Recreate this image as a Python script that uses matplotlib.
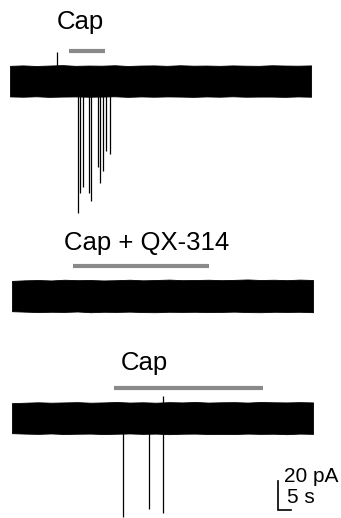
import numpy as np
import matplotlib
matplotlib.use("Agg")
import matplotlib.pyplot as plt

plt.rcParams['font.family'] = ['Liberation Sans', 'DejaVu Sans']

# recording length (s) and trace layout
durations = [115.8, 115.8, 115.8]
starts = [3.85, 4.6, 4.6]            # s, left edge of each trace
baselines = [-55.9, -204.1, -288.3]  # pA offsets of the three traces

# noise envelope (pA above / below baseline)
env_top = [
    [10.5, 10.8, 10.4, 10.7, 11.0, 10.5, 10.7, 10.6, 10.9, 10.4, 10.7, 10.8,
     10.5, 10.9, 10.6, 10.7, 10.5, 10.8, 10.6, 10.5, 10.9, 10.7, 10.6, 10.8],
    [10.4, 10.8, 11.0, 10.7, 11.2, 10.9, 11.0, 10.7, 10.9, 11.2, 10.8, 11.0,
     11.3, 10.9, 11.0, 11.2, 10.9, 11.1, 11.4, 11.0, 11.2, 10.9, 11.3, 11.0],
    [10.3, 10.6, 10.9, 10.6, 10.8, 11.0, 10.6, 10.8, 11.1, 10.7, 10.9, 10.6,
     11.0, 10.8, 11.1, 10.7, 10.9, 11.0, 10.7, 11.1, 10.9, 10.8, 11.0, 10.8],
]
env_bot = [
    [10.6, 10.8, 10.5, 10.9, 10.7, 10.6, 10.8, 10.7, 10.5, 10.9, 10.6, 10.8,
     10.6, 10.7, 10.9, 10.6, 10.8, 10.5, 10.8, 10.7, 10.7, 10.9, 10.6, 10.8],
    [10.5, 10.8, 11.1, 10.9, 11.0, 10.7, 11.2, 10.9, 11.0, 10.8, 11.1, 11.2,
     10.9, 11.0, 10.9, 11.1, 11.0, 10.8, 11.1, 11.2, 10.9, 11.0, 10.9, 11.2],
    [10.4, 10.7, 10.9, 10.6, 11.0, 10.8, 10.7, 11.0, 10.8, 10.6, 10.9, 10.7,
     11.1, 10.8, 10.7, 11.0, 10.9, 11.0, 10.7, 10.9, 10.8, 11.1, 10.7, 10.9],
]

# action currents: time from trace start (s), amplitude (pA, negative = inward)
spike_t = [
    [18.1, 26.0, 26.8, 28.1, 30.3, 31.3, 33.7, 34.6, 35.8, 36.9, 38.5],
    [],
    [42.7, 52.7, 58.1, 58.1],
]
spike_amp = [
    [20, -91, -77, -73, -77, -83, -59, -70, -62, -48, -50],
    [],
    [-68, -63, -65.5, 15],
]

# drug application bars (s from trace start)
bar_on = [22.7, 23.5, 39.2]
bar_off = [36.5, 75.8, 96.5]
bar_labels = ['Cap', 'Cap + QX-314', 'Cap']

fig = plt.figure(figsize=(3.41, 5.18), dpi=100)
ax = fig.add_axes([0, 0, 1, 1])
ax.set_xlim(0, 131.15)
ax.set_ylim(-357.2, 0)
ax.axis('off')

gray = '#8a8a8a'
for i in range(3):
    t0 = starts[i]
    base = baselines[i]
    n = len(env_top[i])
    t = t0 + np.linspace(0, durations[i], n)
    ax.fill_between(t, base - np.array(env_bot[i]), base + np.array(env_top[i]),
                    color='black', lw=0.6, edgecolor='black')
    for st, a in zip(spike_t[i], spike_amp[i]):
        ax.vlines(t0 + st, base, base + a, color='black', lw=0.9)
    # application bar and label
    ax.hlines(base + 20.9, t0 + bar_on[i], t0 + bar_off[i], color=gray, lw=3)

ax.text(31.0, -29 / 1.45, bar_labels[0], fontsize=18.5, ha='center', va='baseline')
ax.text(56.5, -250 / 1.45, bar_labels[1], fontsize=18.5, ha='center', va='baseline')
ax.text(55.4, -370 / 1.45, bar_labels[2], fontsize=18.5, ha='center', va='baseline')

# scale bar: 20 pA, 5 s
sx, sy = 106.9, -351.7
ax.plot([sx, sx, sx + 5], [sy + 20, sy, sy], color='black', lw=1.2,
        solid_joinstyle='miter')
ax.text(sx + 2.3, sy + 19.6, '20 pA', fontsize=15, ha='left', va='baseline')
ax.text(sx + 3.4, sy + 4.8, '5 s', fontsize=15, ha='left', va='baseline')

fig.savefig('out.png', dpi=100)
